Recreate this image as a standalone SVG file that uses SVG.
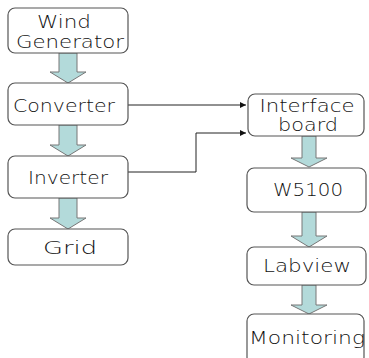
<svg xmlns="http://www.w3.org/2000/svg" width="369" height="358" viewBox="0 0 369 358">
<defs>
<style>
.box{fill:#fff;stroke:#555;stroke-width:1.2}
.lbl{font-family:"DejaVu Sans","Liberation Sans",sans-serif;font-weight:200;font-size:18px;fill:#111}
.sm{font-size:17px}
.blk{fill:#b3dada;stroke:#777;stroke-width:1}
.con{fill:none;stroke:#222;stroke-width:1}
</style>
<marker id="ah" viewBox="0 0 10 10" refX="10" refY="5" markerWidth="8" markerHeight="6" markerUnits="userSpaceOnUse" orient="auto">
<path d="M0,0 L10,5 L0,10 z" fill="#111"/>
</marker>
</defs>
<rect width="369" height="358" fill="#fff"/>
<g id="block-arrows">
<path class="blk" d="M59,53 H77 V72 H86 L68,83 L50,72 H59 Z"/>
<path class="blk" d="M59,125 H77 V145 H86 L68,156 L50,145 H59 Z"/>
<path class="blk" d="M59,198 H77 V218 H86 L68,229 L50,218 H59 Z"/>
<path class="blk" d="M302,136 H316 V158 H327 L309,167 L291,158 H302 Z"/>
<path class="blk" d="M302,212 H316 V236 H327 L309,247 L291,236 H302 Z"/>
<path class="blk" d="M302,285 H316 V305 H327 L309,314 L291,305 H302 Z"/>
</g>
<g id="connectors">
<path class="con" d="M128,105 H246" marker-end="url(#ah)"/>
<path class="con" d="M128,172 H196 V133 H246" marker-end="url(#ah)"/>
</g>
<g id="wind">
<rect class="box" x="8" y="8" width="120" height="45" rx="7"/>
<text class="lbl sm" x="64" y="28" text-anchor="middle" textLength="54" lengthAdjust="spacingAndGlyphs">Wind</text>
<text class="lbl sm" x="70" y="48" text-anchor="middle" textLength="108" lengthAdjust="spacingAndGlyphs">Generator</text>
</g>
<g id="converter">
<rect class="box" x="8" y="83" width="120" height="42" rx="7"/>
<text class="lbl" x="64" y="112" text-anchor="middle" textLength="102" lengthAdjust="spacingAndGlyphs">Converter</text>
</g>
<g id="inverter">
<rect class="box" x="8" y="156" width="120" height="42" rx="7"/>
<text class="lbl" x="68" y="184" text-anchor="middle" textLength="80" lengthAdjust="spacingAndGlyphs">Inverter</text>
</g>
<g id="grid">
<rect class="box" x="8" y="229" width="120" height="36" rx="7"/>
<text class="lbl" x="70" y="254" text-anchor="middle" textLength="54" lengthAdjust="spacingAndGlyphs">Grid</text>
</g>
<g id="interface">
<rect class="box" x="248" y="94" width="116" height="42" rx="7"/>
<text class="lbl sm" x="307" y="112" text-anchor="middle" textLength="95" lengthAdjust="spacingAndGlyphs">Interface</text>
<text class="lbl sm" x="308" y="131" text-anchor="middle" textLength="60" lengthAdjust="spacingAndGlyphs">board</text>
</g>
<g id="w5100">
<rect class="box" x="247" y="168" width="119" height="44" rx="7"/>
<text class="lbl" x="308" y="196" text-anchor="middle" textLength="70" lengthAdjust="spacingAndGlyphs">W5100</text>
</g>
<g id="labview">
<rect class="box" x="247" y="247" width="119" height="38" rx="7"/>
<text class="lbl" x="307" y="272" text-anchor="middle" textLength="88" lengthAdjust="spacingAndGlyphs">Labview</text>
</g>
<g id="monitoring">
<rect class="box" x="247" y="314" width="117" height="50" rx="7"/>
<text class="lbl" x="307" y="344" text-anchor="middle" textLength="116" lengthAdjust="spacingAndGlyphs">Monitoring</text>
</g>
</svg>
